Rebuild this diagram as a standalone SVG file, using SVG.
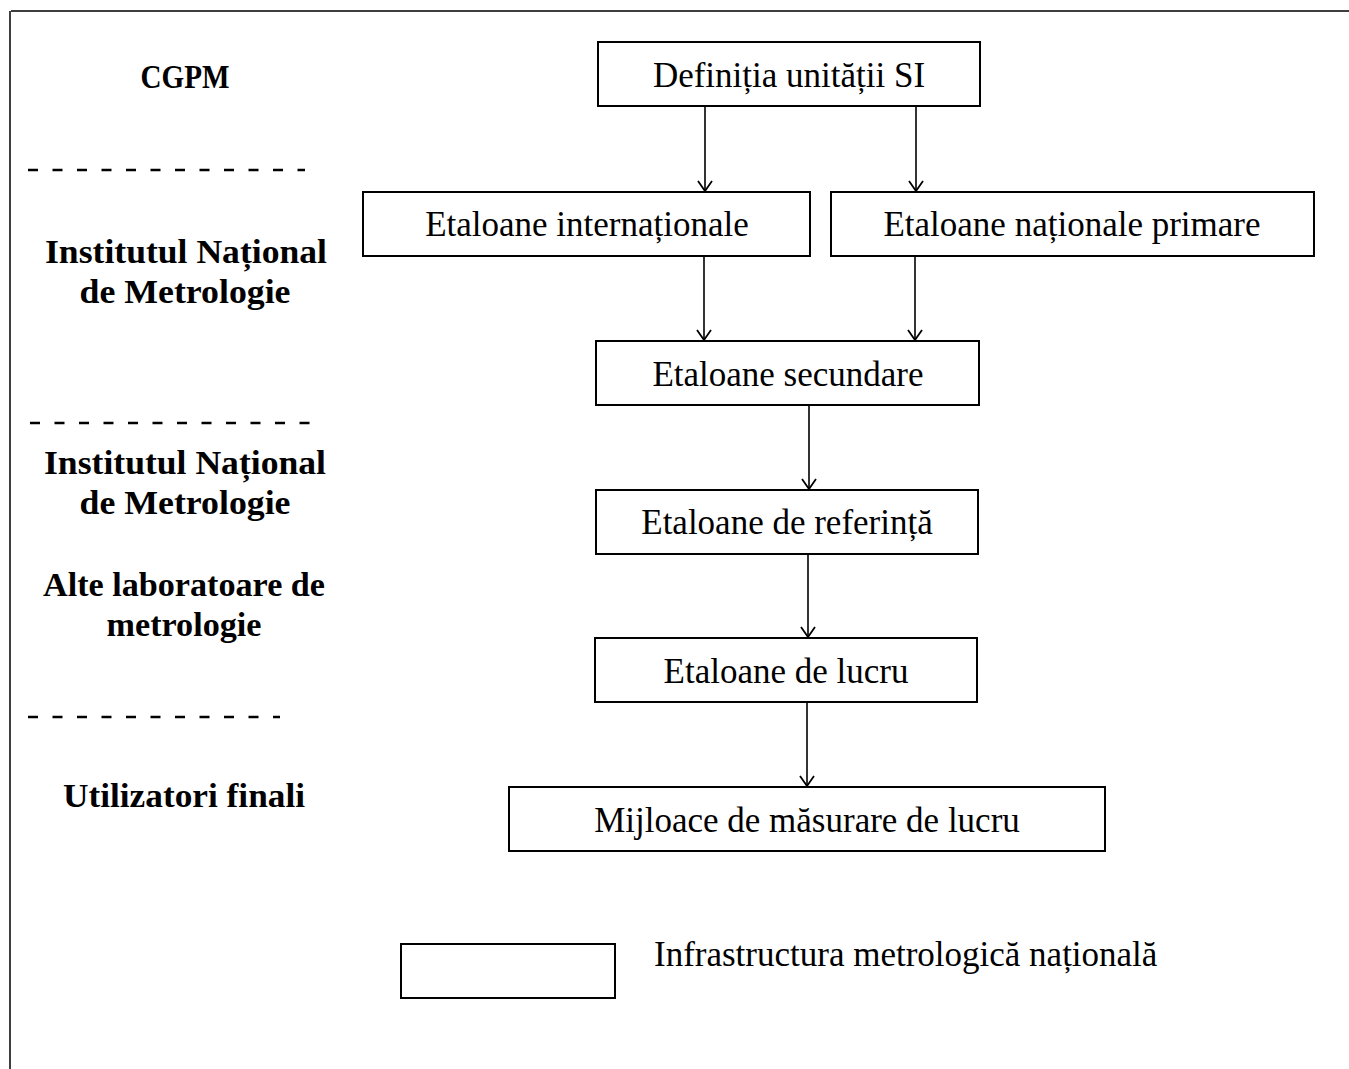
<svg xmlns="http://www.w3.org/2000/svg" width="1349" height="1069" viewBox="0 0 1349 1069">
<style>
.box{fill:#fff;stroke:#000;stroke-width:2}
.t{font-family:"Liberation Serif","Times New Roman",serif;font-size:35px;fill:#000;text-anchor:middle}
.lab{font-family:"Liberation Serif","Times New Roman",serif;font-size:34px;font-weight:bold;fill:#000;text-anchor:middle}
.conn{stroke:#000;stroke-width:1.6;fill:none;marker-end:url(#arr)}
.dash{stroke:#000;stroke-width:2.5;stroke-dasharray:10 14.5;fill:none}
.frame{stroke:#000;stroke-width:1.5;fill:none}
</style>
<defs>
<marker id="arr" viewBox="0 0 14 16" refX="13" refY="8" markerWidth="14" markerHeight="16" markerUnits="userSpaceOnUse" orient="auto">
<path d="M3,1 L13,8 L3,15" fill="none" stroke="#000" stroke-width="1.8"/>
</marker>
</defs>
<rect width="1349" height="1069" fill="#fff"/>
<g id="frame">
<path class="frame" d="M11,11 H1349 M10,11 V1069"/>
</g>
<g id="side-labels">
<text class="lab" x="185" y="88" textLength="89" lengthAdjust="spacingAndGlyphs">CGPM</text>
<path class="dash" d="M28,170 H305"/>
<text class="lab" x="186" y="263" textLength="282" lengthAdjust="spacingAndGlyphs">Institutul Național</text>
<text class="lab" x="185" y="303" textLength="211" lengthAdjust="spacingAndGlyphs">de Metrologie</text>
<path class="dash" d="M30,423 H323"/>
<text class="lab" x="185" y="474" textLength="282" lengthAdjust="spacingAndGlyphs">Institutul Național</text>
<text class="lab" x="185" y="514" textLength="211" lengthAdjust="spacingAndGlyphs">de Metrologie</text>
<text class="lab" x="184" y="596" textLength="282" lengthAdjust="spacingAndGlyphs">Alte laboratoare de</text>
<text class="lab" x="184" y="636" textLength="155" lengthAdjust="spacingAndGlyphs">metrologie</text>
<path class="dash" d="M28,717 H280"/>
<text class="lab" x="184" y="807" textLength="242" lengthAdjust="spacingAndGlyphs">Utilizatori finali</text>
</g>
<g id="connectors">
<path class="conn" d="M705,106 V191"/>
<path class="conn" d="M916,106 V191"/>
<path class="conn" d="M704,256 V340"/>
<path class="conn" d="M915,256 V340"/>
<path class="conn" d="M809,405 V489"/>
<path class="conn" d="M808,554 V637"/>
<path class="conn" d="M807,702 V786"/>
</g>
<g id="n-def">
<rect class="box" x="598" y="42" width="382" height="64"/>
<text class="t" x="789" y="87">Definiția unității SI</text>
</g>
<g id="n-int">
<rect class="box" x="363" y="192" width="447" height="64"/>
<text class="t" x="587" y="236">Etaloane internaționale</text>
</g>
<g id="n-nat">
<rect class="box" x="831" y="192" width="483" height="64"/>
<text class="t" x="1072" y="236">Etaloane naționale primare</text>
</g>
<g id="n-sec">
<rect class="box" x="596" y="341" width="383" height="64"/>
<text class="t" x="788" y="386">Etaloane secundare</text>
</g>
<g id="n-ref">
<rect class="box" x="596" y="490" width="382" height="64"/>
<text class="t" x="787" y="534">Etaloane de referință</text>
</g>
<g id="n-lucru">
<rect class="box" x="595" y="638" width="382" height="64"/>
<text class="t" x="786" y="683">Etaloane de lucru</text>
</g>
<g id="n-mij">
<rect class="box" x="509" y="787" width="596" height="64"/>
<text class="t" x="807" y="832">Mijloace de măsurare de lucru</text>
</g>
<g id="legend">
<rect class="box" x="401" y="944" width="214" height="54"/>
<text class="t" x="654" y="966" style="text-anchor:start">Infrastructura metrologică națională</text>
</g>
</svg>
